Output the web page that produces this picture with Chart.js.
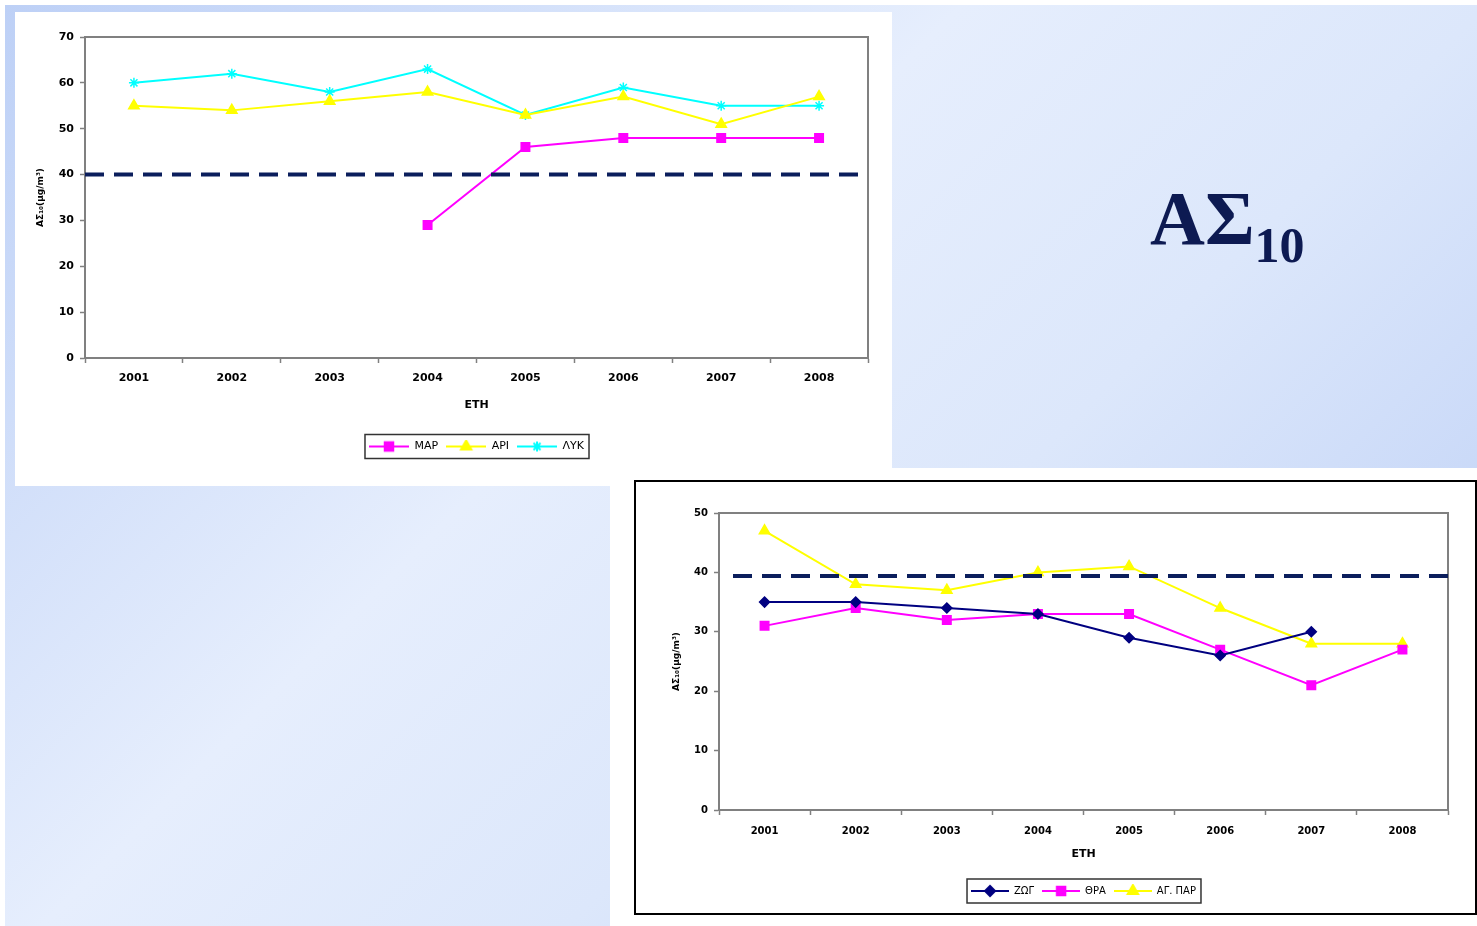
<!DOCTYPE html>
<html>
<head>
<meta charset="utf-8">
<script src="https://cdn.jsdelivr.net/npm/chart.js@4"></script>
<style>
body { margin:0; width:1477px; height:926px; background:#fff; position:relative; overflow:hidden; font-family:"DejaVu Sans", sans-serif; }
.slide { position:absolute; left:5px; top:5px; width:1472px; height:921px;
  background:linear-gradient(135deg, #bdd0f6 0%, #e6eefd 40%, #dce7fb 62%, #b8ccf5 100%); }
.blank { position:absolute; left:610px; top:468px; width:867px; height:458px; background:#fff; }
.panel1 { position:absolute; left:15px; top:12px; width:877px; height:474px; background:#fff; }
.panel2 { position:absolute; left:634px; top:480px; width:839px; height:431px; border:2px solid #000; background:#fff; }
.bigtitle { position:absolute; left:1150px; top:168px; font-family:"Liberation Serif", "DejaVu Serif", serif;
  font-weight:bold; color:#0d1a52; font-size:76px; line-height:100px; }
.bigtitle sub { font-size:50px; vertical-align:-18px; }
canvas { display:block; }
</style>
</head>
<body>
<div class="slide"></div>
<div class="blank"></div>
<div class="panel1"><canvas id="top-chart" width="877" height="474"></canvas></div>
<div class="panel2"><canvas id="bottom-chart" width="839" height="431"></canvas></div>
<div class="bigtitle">ΑΣ<sub>10</sub></div>
<script>
// years on the x axis (both charts)
const years = ['2001', '2002', '2003', '2004', '2005', '2006', '2007', '2008'];

// top chart
const mapValues = [null, null, null, 29, 46, 48, 48, 48];
const apiValues = [55, 54, 56, 58, 53, 57, 51, 57];
const lykValues = [60, 62, 58, 63, 53, 59, 55, 55];
const topLimit = 40;
const topYMax = 70;

// bottom chart
const zogValues = [35, 35, 34, 33, 29, 26, 30, null];
const thraValues = [31, 34, 32, 33, 33, 27, 21, 27];
const agparValues = [47, 38, 37, 40, 41, 34, 28, 28];
const bottomLimit = 39.4;
const bottomYMax = 50;

const yTitle = 'ΑΣ₁₀(μg/m³)';
const xTitle = 'ΕΤΗ';
const axisGrey = '#808080';

// small canvas with line + marker, used as legend symbol
function legendIcon(color, style, radius, width) {
    const c = document.createElement('canvas');
    c.width = width;
    c.height = 14;
    const g = c.getContext('2d');
    g.strokeStyle = color;
    g.fillStyle = color;
    g.lineWidth = 2;
    g.beginPath();
    g.moveTo(0, 7);
    g.lineTo(width, 7);
    g.stroke();
    Chart.helpers.drawPoint(g, { pointStyle: style, radius: radius, borderWidth: 1.5 }, width / 2, 7);
    return c;
}

// grey frame on top/right of plot area
const plotFrame = {
    id: 'plotFrame',
    beforeDatasetsDraw(chart) {
        const { ctx, chartArea: a } = chart;
        ctx.save();
        ctx.strokeStyle = axisGrey;
        ctx.lineWidth = 2;
        ctx.beginPath();
        ctx.moveTo(a.left, a.top);
        ctx.lineTo(a.right, a.top);
        ctx.lineTo(a.right, a.bottom);
        ctx.stroke();
        ctx.restore();
    }
};

// dashed limit line
const limitLine = {
    id: 'limitLine',
    afterDatasetsDraw(chart, args, opts) {
        const { ctx, chartArea: a } = chart;
        const y = chart.scales.y.getPixelForValue(opts.value);
        ctx.save();
        ctx.strokeStyle = '#0b1e5c';
        ctx.lineWidth = 4;
        ctx.setLineDash([19, 10]);
        ctx.beginPath();
        ctx.moveTo(a.left + opts.startOffset, y);
        ctx.lineTo(a.right + opts.endOffset, y);
        ctx.stroke();
        ctx.restore();
    }
};

// box around the legend items
const legendFrame = {
    id: 'legendFrame',
    afterDraw(chart) {
        const boxes = chart.legend.legendHitBoxes;
        if (!boxes || !boxes.length) return;
        const ctx = chart.ctx;
        const left = boxes[0].left - 4;
        const right = boxes[boxes.length - 1].left + boxes[boxes.length - 1].width + 5;
        const mid = boxes[0].top + boxes[0].height / 2;
        ctx.save();
        ctx.strokeStyle = '#333';
        ctx.lineWidth = 1.5;
        ctx.strokeRect(left, mid - 12, right - left, 24);
        ctx.restore();
    }
};

function buildChart(id, datasets, cfg) {
    const icons = datasets.map(d => legendIcon(d.borderColor, d.pointStyle, d.pointRadius, cfg.iconWidth));
    return new Chart(document.getElementById(id), {
        type: 'line',
        data: { labels: years, datasets: datasets },
        plugins: [plotFrame, limitLine, legendFrame],
        options: {
            responsive: false,
            animation: false,
            layout: { padding: cfg.padding },
            scales: {
                x: {
                    offset: true,
                    grid: { offset: true, drawOnChartArea: false, tickLength: 5, color: axisGrey, tickWidth: 1.5 },
                    border: { color: axisGrey, width: 2 },
                    ticks: { color: '#000', padding: cfg.xTickPad, font: { family: 'DejaVu Sans', weight: 'bold', size: cfg.tickSize } },
                    title: { display: true, text: xTitle, color: '#000',
                        font: { family: 'DejaVu Sans', weight: 'bold', size: 11 }, padding: { bottom: cfg.xTitlePad } },
                    afterFit: s => { s.height = cfg.xHeight; }
                },
                y: {
                    min: 0,
                    max: cfg.yMax,
                    grid: { drawOnChartArea: false, tickLength: 5, color: axisGrey, tickWidth: 1.5 },
                    border: { color: axisGrey, width: 2 },
                    ticks: { stepSize: 10, color: '#000', padding: 6, font: { family: 'DejaVu Sans', weight: 'bold', size: cfg.tickSize } },
                    title: { display: true, text: yTitle, color: '#000',
                        font: { family: 'DejaVu Sans', weight: 'bold', size: 9 }, padding: { top: cfg.yTitlePad } },
                    afterFit: s => { s.width = cfg.yWidth; }
                }
            },
            plugins: {
                limitLine: cfg.limit,
                tooltip: { enabled: false },
                legend: {
                    position: 'bottom',
                    fullSize: false,
                    labels: {
                        usePointStyle: true,
                        pointStyleWidth: cfg.iconWidth,
                        padding: 8,
                        color: '#000',
                        font: { family: 'DejaVu Sans', size: cfg.legendSize },
                        generateLabels: chart => Chart.defaults.plugins.legend.labels.generateLabels(chart)
                            .map((l, i) => Object.assign(l, { pointStyle: icons[i] }))
                    }
                }
            }
        }
    });
}

function series(label, values, color, style, radius) {
    return {
        label: label,
        data: values,
        borderColor: color,
        backgroundColor: color,
        borderWidth: 2,
        pointStyle: style,
        pointRadius: radius,
        pointBorderWidth: 1.5,
        spanGaps: false,
        tension: 0
    };
}

buildChart('top-chart', [
    series('ΜΑΡ', mapValues, '#ff00ff', 'rect', 6),
    series('ΑΡΙ', apiValues, '#ffff00', 'triangle', 6),
    series('ΛΥΚ', lykValues, '#00ffff', 'star', 5)
], {
    yMax: topYMax,
    padding: { top: 25, right: 24, left: 0, bottom: 24 },
    yWidth: 70,
    xHeight: 75,
    xTickPad: 9,
    xTitlePad: 21,
    yTitlePad: 20,
    tickSize: 11,
    legendSize: 11,
    iconWidth: 40,
    limit: { value: topLimit, startOffset: 0, endOffset: 0 }
});

buildChart('bottom-chart', [
    series('ΖΩΓ', zogValues, '#000080', 'rectRot', 5),
    series('ΘΡΑ', thraValues, '#ff00ff', 'rect', 6),
    series('ΑΓ. ΠΑΡ', agparValues, '#ffff00', 'triangle', 6)
], {
    yMax: bottomYMax,
    padding: { top: 31, right: 27, left: 0, bottom: 7 },
    yWidth: 83,
    xHeight: 68,
    xTickPad: 10,
    xTitlePad: 17,
    yTitlePad: 35,
    tickSize: 10,
    legendSize: 10,
    iconWidth: 38,
    limit: { value: bottomLimit, startOffset: 14, endOffset: 4 }
});
</script>
</body>
</html>
